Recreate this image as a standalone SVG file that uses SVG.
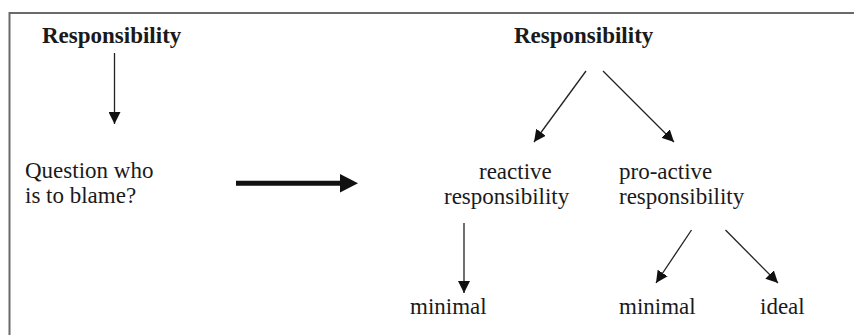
<svg xmlns="http://www.w3.org/2000/svg" width="854" height="335" viewBox="0 0 854 335">
<style>
text { font-family: "Liberation Serif", "Times New Roman", serif; font-size: 23px; fill: #1a1a1a; }
.b { font-weight: bold; }
.ln { stroke: #222; stroke-width: 1.3; fill: none; }
</style>
<defs>
<marker id="ah" markerUnits="userSpaceOnUse" markerWidth="12" markerHeight="12" viewBox="0 0 12 12" refX="12" refY="6" orient="auto">
<path d="M0,0 L12,6 L0,12 z" fill="#111"/>
</marker>
</defs>
<rect width="854" height="335" fill="#fff"/>
<path d="M9.5,340 V13 H860" fill="none" stroke="#6a6a6a" stroke-width="2"/>
<g id="n-resp-left"><text class="b" x="42" y="43">Responsibility</text></g>
<g id="n-question"><text x="25" y="178">Question who</text><text x="25" y="203">is to blame?</text></g>
<g id="n-resp-right"><text class="b" x="514" y="43">Responsibility</text></g>
<g id="n-reactive"><text x="479" y="179">reactive</text><text x="444" y="204">responsibility</text></g>
<g id="n-proactive"><text x="619" y="179">pro-active</text><text x="619" y="204">responsibility</text></g>
<g id="n-minimal-1"><text x="410" y="314">minimal</text></g>
<g id="n-minimal-2"><text x="619" y="314">minimal</text></g>
<g id="n-ideal"><text x="760" y="314">ideal</text></g>
<g id="connectors">
<line class="ln" x1="114.5" y1="53" x2="114.5" y2="124" marker-end="url(#ah)"/>
<line x1="236" y1="183.3" x2="342" y2="183.3" stroke="#111" stroke-width="5"/>
<polygon points="340,174 358,183.3 340,192.6" fill="#111"/>
<line class="ln" x1="586" y1="71" x2="534" y2="142" marker-end="url(#ah)"/>
<line class="ln" x1="603" y1="71" x2="674" y2="142" marker-end="url(#ah)"/>
<line class="ln" x1="464" y1="223" x2="464" y2="293" marker-end="url(#ah)"/>
<line class="ln" x1="691.5" y1="230" x2="656" y2="283" marker-end="url(#ah)"/>
<line class="ln" x1="725.5" y1="230" x2="778" y2="283" marker-end="url(#ah)"/>
</g>
</svg>
